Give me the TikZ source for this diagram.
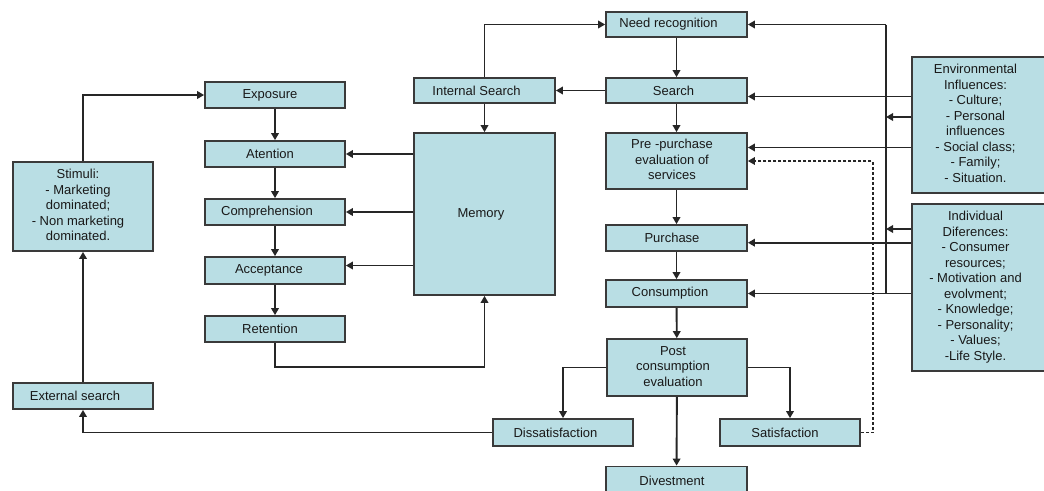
\documentclass[tikz,border=0pt]{standalone}
\usepackage{fontspec}
\setmainfont{Liberation Sans}
\usetikzlibrary{arrows.meta}
\definecolor{boxfill}{RGB}{185,222,228}
\definecolor{boxline}{RGB}{58,58,58}
\definecolor{wire}{RGB}{38,38,38}
\newcommand\stack[1]{\begin{tabular}{@{}c@{}}#1\end{tabular}}
\begin{document}
\begin{tikzpicture}[x=1pt,y=-1pt,
  shl/.style={execute at begin node={\kern-#1pt}},
  box/.style={draw=boxline, line width=1.7pt, fill=boxfill, inner sep=0pt,
    minimum width=141pt, minimum height=26pt, text=black!90,
    font=\fontsize{13}{15.5}\selectfont},
  arr/.style={draw=wire, line width=1.9pt, -{Triangle[length=7pt,width=7.5pt]}},
  wireline/.style={draw=wire, line width=1.9pt},
  dashwire/.style={arr, dash pattern=on 3pt off 2pt, line width=1.5pt},
]
\useasboundingbox (0,0) rectangle (1044,490);

\begin{scope}
\clip (0,0) rectangle (1044,490);
% decision process column
\node[box, shl=16, minimum height=25pt] (need) at (676.5,24.5) {Need recognition};
\node[box, shl=6, minimum height=25pt] (search) at (676.5,90.5) {Search};
\node[box, minimum height=56pt, shl=9] (pre) at (676.5,161) {\stack{Pre -purchase\\evaluation of\\services}};
\node[box, shl=9] (purchase) at (676.5,238) {Purchase};
\node[box, shl=13, minimum height=27pt] (consumption) at (676.5,293.5) {Consumption};
\node[box, minimum width=140pt, minimum height=57pt, shl=8] (post) at (677,367.5) {\stack{Post\\consumption\\evaluation}};
\node[box, minimum width=140pt, minimum height=27pt, shl=15] (dissat) at (563,432.5) {Dissatisfaction};
\node[box, minimum width=140pt, minimum height=27pt, shl=10] (sat) at (790,432.5) {Satisfaction};
\node[box, minimum width=141pt, minimum height=29pt, shl=9] (divest) at (676.5,481) {Divestment};

% search and memory
\node[box, shl=16, minimum height=25pt] (intsearch) at (484.5,90.5) {Internal Search};
\node[box, minimum height=162pt, shl=7] (memory) at (484.5,214) {Memory};

% information processing column
\node[box, minimum width=140pt, shl=10] (exposure) at (275,95) {Exposure};
\node[box, minimum width=140pt, shl=10] (atention) at (275,154) {Atention};
\node[box, minimum width=140pt, shl=16] (comprehension) at (275,212) {Comprehension};
\node[box, minimum width=140pt, shl=12, minimum height=27pt] (acceptance) at (275,270.5) {Acceptance};
\node[box, minimum width=140pt, shl=10] (retention) at (275,329) {Retention};

% stimuli and external search
\node[box, minimum width=140pt, minimum height=89pt, shl=10] (stimuli) at (83,206.5) {\stack{Stimuli:\\- Marketing\\dominated;\\- Non marketing\\dominated.}};
\node[box, minimum width=140pt, shl=16] (external) at (83,396) {External search};

% influences
\node[box, minimum width=138pt, minimum height=136pt, shl=11] (env) at (981,125) {\stack{Environmental\\Influences:\\- Culture;\\- Personal\\influences\\- Social class;\\- Family;\\- Situation.}};
\node[box, minimum width=138pt, minimum height=167pt, shl=11] (indiv) at (981,287.5) {\stack{Individual\\Diferences:\\- Consumer\\resources;\\- Motivation and\\evolvment;\\- Knowledge;\\- Personality;\\- Values;\\-Life Style.}};
\end{scope}

% main decision flow
\draw[arr] (need) -- (search);
\draw[arr] (search) -- (pre);
\draw[arr] (pre) -- (purchase);
\draw[arr] (purchase) -- (consumption);
\draw[arr] (consumption) -- (post);
\draw[arr] (post) -- (divest);
\draw[arr] (post.west) -| (dissat.north);
\draw[arr] (post.east) -| (sat.north);
\draw[dashwire] (sat.east) -- ++(12,0) |- (pre.east);

% internal search and memory
\draw[arr] (search.west) -- (intsearch.east);
\draw[arr] (intsearch.north) |- (need.west);
\draw[arr] (intsearch) -- (memory);
\draw[arr] (memory.west |- atention.east) -- (atention.east);
\draw[arr] (memory.west |- comprehension.east) -- (comprehension.east);
\draw[arr] ([yshift=5pt]acceptance.east -| memory.west) -- ([yshift=5pt]acceptance.east);
\draw[arr] (retention.south) -- ++(0,24) -| (memory.south);

% information processing chain
\draw[arr] (exposure) -- (atention);
\draw[arr] (atention) -- (comprehension);
\draw[arr] (comprehension) -- (acceptance);
\draw[arr] (acceptance) -- (retention);

% stimuli loop
\draw[arr] (stimuli.north) |- (exposure.west);
\draw[arr] (external) -- (stimuli);
\draw[arr] (dissat.west) -| (external.south);

% influences bus
\coordinate (bus) at (886,0);
\draw[wireline] (bus |- need.east) -- (bus |- consumption.east);
\draw[arr] (bus |- need.east) -- (need.east);
\draw[arr] ([yshift=-6pt]search.east -| env.west) -- ([yshift=-6pt]search.east);
\draw[arr] ([yshift=8pt]env.west) -- ([yshift=8pt]env.west -| bus);
\draw[arr] ([yshift=13.5pt]pre.east -| env.west) -- ([yshift=13.5pt]pre.east);
\draw[arr] ([yshift=58.5pt]indiv.west) -- ([yshift=58.5pt]indiv.west -| bus);
\draw[arr] ([yshift=-4.7pt]purchase.east -| indiv.west) -- ([yshift=-4.7pt]purchase.east);
\draw[arr] (consumption.east -| indiv.west) -- (consumption.east);
\end{tikzpicture}
\end{document}
